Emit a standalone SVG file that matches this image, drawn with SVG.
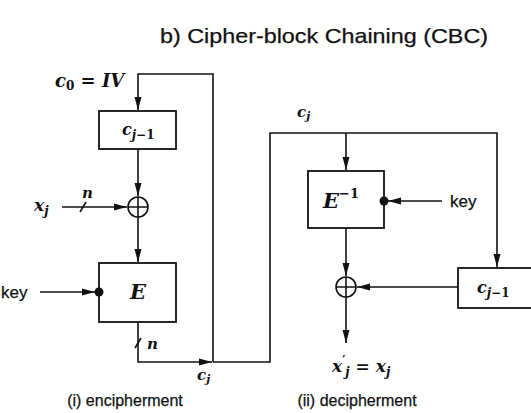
<svg xmlns="http://www.w3.org/2000/svg" width="531" height="413" viewBox="0 0 531 413">
<style>
.ln{fill:none;stroke:#111;stroke-width:1.6}
.bx{fill:#fff;stroke:#111;stroke-width:1.8}
.sans{font-family:"Liberation Sans",Arial,sans-serif;fill:#111;stroke:#111;stroke-width:0.25}
.m{font-family:"DejaVu Serif","Liberation Serif",serif;font-style:italic;font-weight:bold;fill:#111}
.mu{font-family:"DejaVu Serif","Liberation Serif",serif;font-style:normal;font-weight:bold;fill:#111}
</style>
<defs>
<marker id="ah" markerUnits="userSpaceOnUse" markerWidth="14" markerHeight="8" refX="13" refY="4" orient="auto">
<path d="M0,0.5 L13,4 L0,7.5 Z" fill="#111"/>
</marker>
</defs>
<rect width="531" height="413" fill="#fff"/>
<text class="sans" x="160" y="43" font-size="21" textLength="328" lengthAdjust="spacingAndGlyphs">b) Cipher-block Chaining (CBC)</text>

<g id="connectors">
<path class="ln" d="M213,362 V74 H138 V110" marker-end="url(#ah)"/>
<path class="ln" d="M138,149 V196" marker-end="url(#ah)"/>
<path class="ln" d="M62,207 H127" marker-end="url(#ah)"/>
<path class="ln" d="M80,212 L86,202"/>
<path class="ln" d="M138,217 V262" marker-end="url(#ah)"/>
<path class="ln" d="M40,292 H95" marker-end="url(#ah)"/>
<path class="ln" d="M138,322 V362 H212" marker-end="url(#ah)"/>
<path class="ln" d="M135,348 L141,338"/>
<path class="ln" d="M213,362 H270 V133 H497 V267" marker-end="url(#ah)"/>
<path class="ln" d="M346,133 V170" marker-end="url(#ah)"/>
<path class="ln" d="M442,201 H388" marker-end="url(#ah)"/>
<path class="ln" d="M346,228 V276" marker-end="url(#ah)"/>
<path class="ln" d="M458,287 H357" marker-end="url(#ah)"/>
<path class="ln" d="M346,297 V343" marker-end="url(#ah)"/>
</g>

<g id="iv-label">
<text class="m" x="55" y="87" font-size="18">c<tspan class="mu" font-size="12" dy="3">0</tspan><tspan class="mu" dy="-3"> = </tspan>IV</text>
</g>
<g id="cprev-enc">
<rect class="bx" x="99" y="111" width="77" height="38"/>
<text class="m" x="122" y="135" font-size="16">c<tspan font-size="12" dy="4">j</tspan><tspan class="mu" font-size="12">−1</tspan></text>
</g>
<g id="xor-enc">
<circle class="ln" cx="138" cy="207" r="10"/>
<path class="ln" d="M128,207 H148 M138,197 V217"/>
</g>
<g id="xj-label">
<text class="m" x="34" y="211" font-size="17">x<tspan font-size="12" dy="4">j</tspan></text>
<text class="m" x="82" y="198" font-size="15">n</text>
</g>
<g id="E">
<rect class="bx" x="99" y="263" width="77" height="59"/>
<text class="m" x="138" y="299" font-size="21" text-anchor="middle" font-weight="normal">E</text>
</g>
<g id="key-enc">
<text class="sans" x="1" y="298" font-size="17">key</text>
<circle cx="99" cy="292" r="4.5" fill="#111"/>
</g>
<g id="n-out">
<text class="m" x="147" y="349" font-size="15">n</text>
</g>
<g id="cj-enc">
<text class="m" x="197" y="380" font-size="15">c<tspan font-size="11" dy="3">j</tspan></text>
</g>
<g id="cj-dec">
<text class="m" x="297" y="117" font-size="15">c<tspan font-size="11" dy="3">j</tspan></text>
</g>
<g id="Einv">
<rect class="bx" x="308" y="171" width="76" height="57"/>
<text class="m" x="323" y="208" font-size="21" font-weight="normal">E<tspan class="mu" font-size="13" dy="-10">−1</tspan></text>
</g>
<g id="key-dec">
<text class="sans" x="450" y="207" font-size="17">key</text>
<circle cx="384" cy="201" r="4.5" fill="#111"/>
</g>
<g id="xor-dec">
<circle class="ln" cx="346" cy="287" r="10"/>
<path class="ln" d="M336,287 H356 M346,277 V297"/>
</g>
<g id="cprev-dec">
<rect class="bx" x="458" y="268" width="80" height="40"/>
<text class="m" x="477" y="293" font-size="16">c<tspan font-size="12" dy="4">j</tspan><tspan class="mu" font-size="12">−1</tspan></text>
</g>
<g id="xout">
<text class="m" x="332" y="372" font-size="17">x<tspan class="mu" font-size="12" dy="-7">′</tspan><tspan font-size="12" dy="11">j</tspan><tspan class="mu" font-size="17" dy="-4"> = </tspan>x<tspan font-size="12" dy="4">j</tspan></text>
</g>
<g id="captions">
<text class="sans" x="125" y="406" font-size="16" text-anchor="middle">(i) encipherment</text>
<text class="sans" x="357" y="406" font-size="16" text-anchor="middle">(ii) decipherment</text>
</g>
</svg>
